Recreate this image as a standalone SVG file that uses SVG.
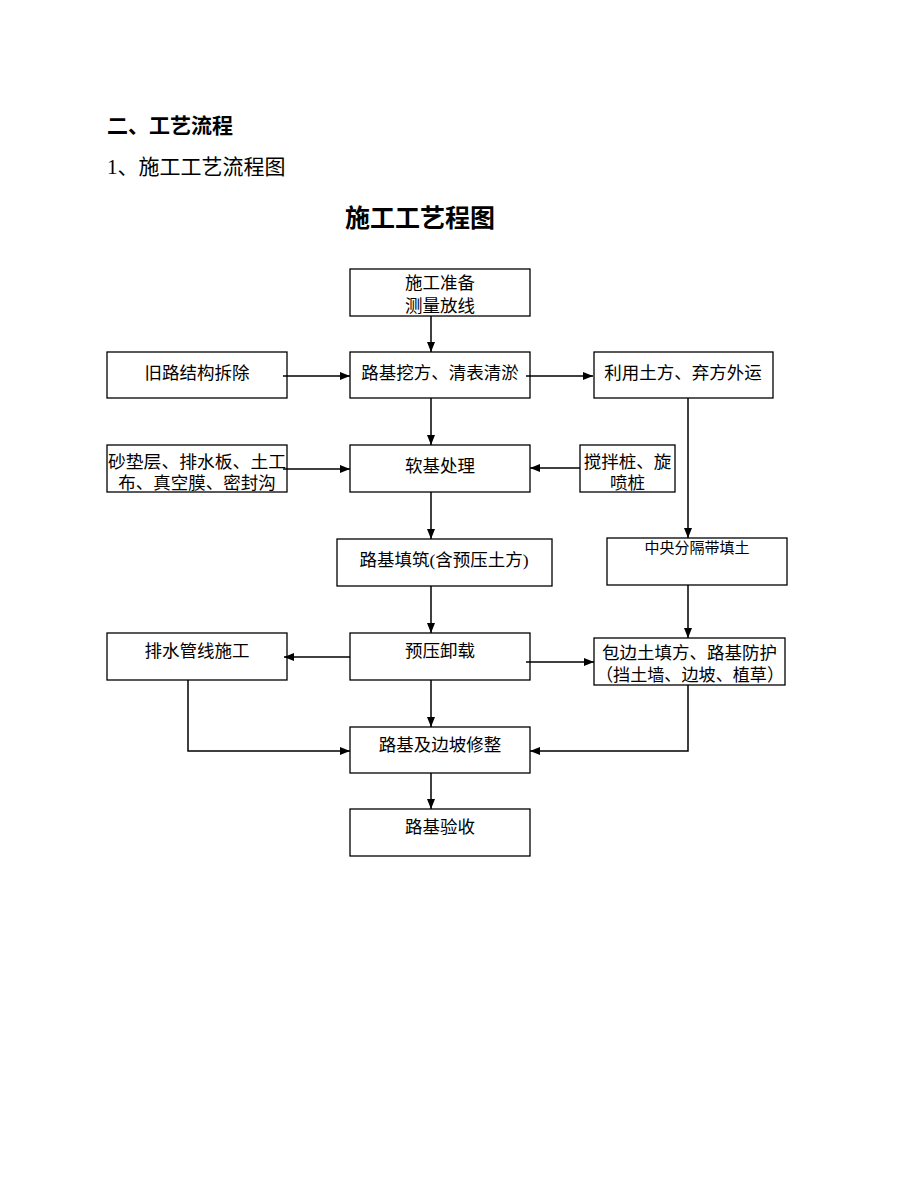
<svg xmlns="http://www.w3.org/2000/svg" width="920" height="1191" viewBox="0 0 920 1191">
<defs>
<marker id="ah" markerWidth="10" markerHeight="8" refX="10" refY="4" orient="auto" markerUnits="userSpaceOnUse">
<path d="M0,0 L10,4 L0,8 z" fill="#000"/>
</marker>
<style>
.box{fill:#fff;stroke:#000;stroke-width:1.3}
.t{font-family:"Liberation Serif","Noto Sans CJK SC",serif;font-size:17.5px;fill:#000;text-anchor:middle}
.c{fill:none;stroke:#000;stroke-width:1.5;marker-end:url(#ah)}
.h{font-family:"Liberation Serif","Noto Sans CJK SC",serif;fill:#000}
</style>
</defs>
<rect width="920" height="1191" fill="#fff"/>
<text class="h" x="107" y="133" font-size="21" font-weight="bold">二、工艺流程</text>
<text class="h" x="107" y="174" font-size="21">1、施工工艺流程图</text>
<text class="h" x="420" y="227" font-size="25" font-weight="bold" text-anchor="middle">施工工艺程图</text>

<g id="n1"><rect class="box" x="350" y="269" width="180" height="47"/>
<text class="t" x="440" y="289">施工准备</text><text class="t" x="440" y="312">测量放线</text></g>
<g id="n2"><rect class="box" x="107" y="352" width="180" height="46"/>
<text class="t" x="197" y="379">旧路结构拆除</text></g>
<g id="n3"><rect class="box" x="350" y="352" width="180" height="46"/>
<text class="t" x="440" y="379">路基挖方、清表清淤</text></g>
<g id="n4"><rect class="box" x="594" y="352" width="179" height="46"/>
<text class="t" x="683" y="379">利用土方、弃方外运</text></g>
<g id="n5"><rect class="box" x="107" y="445" width="180" height="47"/>
<text class="t" x="197" y="468" textLength="178" lengthAdjust="spacingAndGlyphs">砂垫层、排水板、土工</text>
<text class="t" x="197" y="489">布、真空膜、密封沟</text></g>
<g id="n6"><rect class="box" x="350" y="445" width="180" height="47"/>
<text class="t" x="440" y="472">软基处理</text></g>
<g id="n7"><rect class="box" x="580" y="445" width="95" height="47"/>
<text class="t" x="627.5" y="468">搅拌桩、旋</text><text class="t" x="627.5" y="489">喷桩</text></g>
<g id="n8"><rect class="box" x="337" y="539" width="215" height="47"/>
<text class="t" x="444" y="566">路基填筑(含预压土方)</text></g>
<g id="n9"><rect class="box" x="607" y="538" width="180" height="47"/>
<text class="t" x="697" y="553" style="font-size:15px">中央分隔带填土</text></g>
<g id="n10"><rect class="box" x="107" y="633" width="180" height="47"/>
<text class="t" x="197" y="657">排水管线施工</text></g>
<g id="n11"><rect class="box" x="350" y="633" width="180" height="47"/>
<text class="t" x="440" y="657">预压卸载</text></g>
<g id="n12"><rect class="box" x="594" y="638" width="191" height="47"/>
<text class="t" x="689.5" y="659">包边土填方、路基防护</text>
<text class="t" x="690" y="681" textLength="188" lengthAdjust="spacingAndGlyphs">（挡土墙、边坡、植草）</text></g>
<g id="n13"><rect class="box" x="350" y="727" width="180" height="46"/>
<text class="t" x="440" y="751">路基及边坡修整</text></g>
<g id="n14"><rect class="box" x="350" y="809" width="180" height="47"/>
<text class="t" x="440" y="833">路基验收</text></g>

<g id="connectors">
<path class="c" d="M431,316 V352"/>
<path class="c" d="M283,376 H350"/>
<path class="c" d="M526,376 H593"/>
<path class="c" d="M431,398 V445"/>
<path class="c" d="M283,469 H350"/>
<path class="c" d="M580,468 H530"/>
<path class="c" d="M688,398 V538"/>
<path class="c" d="M431,492 V539"/>
<path class="c" d="M431,586 V633"/>
<path class="c" d="M688,585 V638"/>
<path class="c" d="M350,657 H284"/>
<path class="c" d="M526,662 H594"/>
<path class="c" d="M431,680 V727"/>
<path class="c" d="M188,680 V751 H350"/>
<path class="c" d="M688,685 V751 H530"/>
<path class="c" d="M431,773 V809"/>
</g>
</svg>
